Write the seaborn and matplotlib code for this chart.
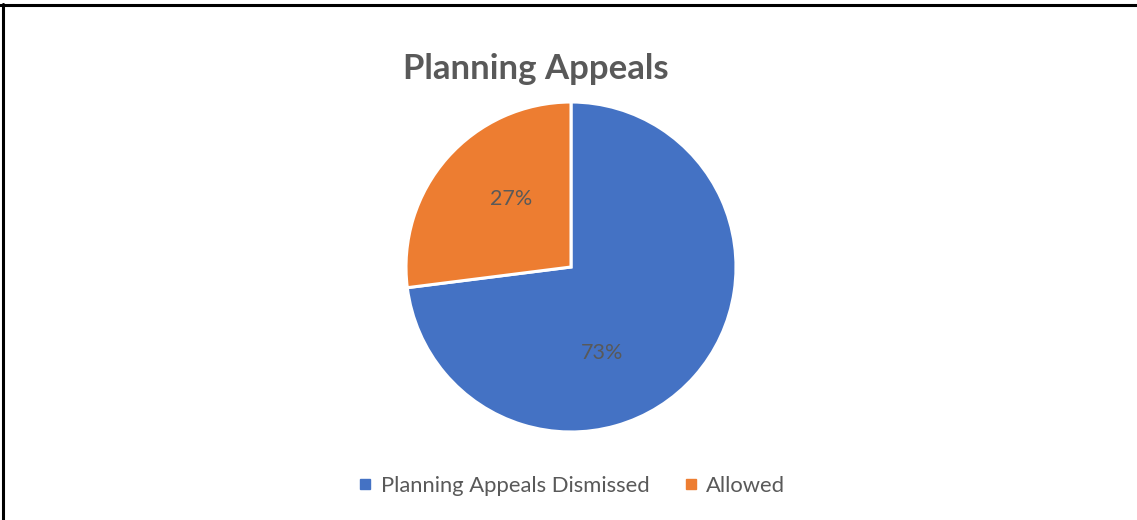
import matplotlib
matplotlib.use("Agg")
import matplotlib.pyplot as plt
import seaborn as sns
from matplotlib.lines import Line2D

sns.set_theme(style="white")
plt.rcParams['font.family'] = ['Lato', 'DejaVu Sans']

categories = ["Planning Appeals Dismissed", "Allowed"]
values = [73, 27]
colors = ["#4472C4", "#ED7D31"]
title = "Planning Appeals"
text_color = "#595959"

fig = plt.figure(figsize=(11.37, 5.2), dpi=100)
W, H = 1137, 520
cx, cy, r = 571, 267, 165
ax = fig.add_axes([(cx - r) / W, (H - cy - r) / H, 2 * r / W, 2 * r / H])

wedges, texts, autotexts = ax.pie(
    values, colors=colors, startangle=90, counterclock=False,
    autopct=lambda p: f"{p:.0f}%", pctdistance=0.55, radius=1.0,
    wedgeprops=dict(edgecolor="white", linewidth=2.2),
    textprops=dict(color=text_color, fontsize=15.5))
# Excel-like label positions
autotexts[0].set_position((0.19, -0.52))
autotexts[1].set_position((-0.36, 0.41))
ax.set_xlim(-1.0, 1.0)
ax.set_ylim(-1.0, 1.0)
ax.set_aspect("equal")
ax.axis("off")

fig.text(536 / W, 1 - 69 / H, title, ha="center", va="center",
         fontsize=25, fontweight="bold", color=text_color)

handles = [Line2D([0], [0], marker="s", linestyle="none", markersize=7,
                  markerfacecolor=c, markeredgecolor=c) for c in colors]
fig.legend(handles, categories, loc="center", bbox_to_anchor=(571 / W, 1 - 486 / H),
           ncol=2, frameon=False, fontsize=15.8, labelcolor=text_color,
           handletextpad=0.3, columnspacing=1.5, handlelength=0.8)

# border lines on top and left
fig.add_artist(Line2D([0, 1], [1 - 4.5 / H, 1 - 4.5 / H], color="black", linewidth=2.2))
fig.add_artist(Line2D([2.5 / W, 2.5 / W], [0, 1 - 4 / H], color="black", linewidth=2.2))

fig.savefig("out.png", dpi=100)
